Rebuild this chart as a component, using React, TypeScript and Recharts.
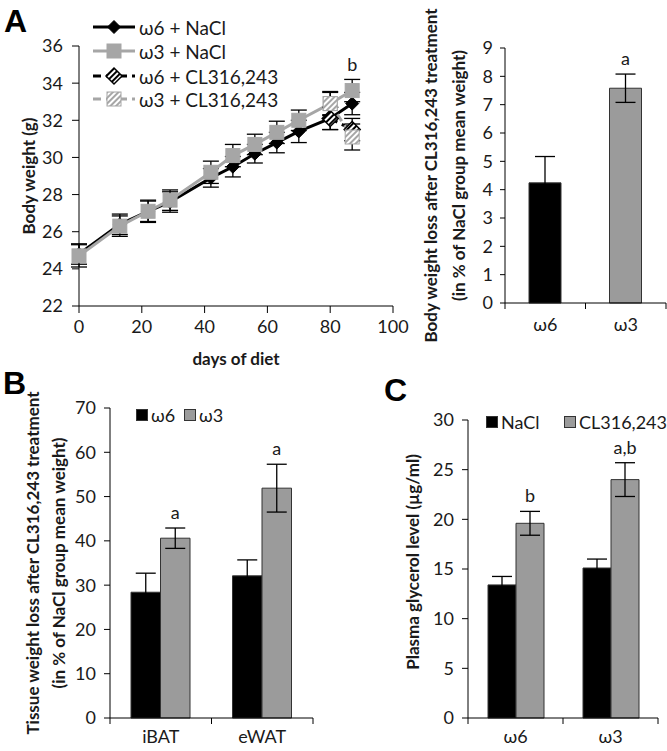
import React from "react";
import {
  LineChart,
  Line,
  BarChart,
  Bar,
  Cell,
  XAxis,
  YAxis,
  ErrorBar,
  LabelList,
  Label,
} from "recharts";

const FONT = "Lato, 'Open Sans', 'DejaVu Sans', sans-serif";
const INK = "#1a1a1a";
const GRAY_LINE = "#a6a6a6";
const GRAY_BAR = "#9b9b9b";

// ---- panel A, body weight over time ----
const days = [0, 13, 22, 29, 42, 49, 56, 63, 70, 80, 87];
const w6NaCl = [24.8, 26.4, 27.1, 27.6, 28.9, 29.5, 30.2, 30.8, 31.4, 32.1, 32.9];
const w6NaClErr = [0.55, 0.55, 0.55, 0.55, 0.5, 0.55, 0.5, 0.55, 0.6, 0.6, 0.6];
const w3NaCl = [24.7, 26.3, 27.1, 27.7, 29.2, 30.1, 30.7, 31.35, 32.0, 32.9, 33.6];
const w3NaClErr = [0.6, 0.55, 0.6, 0.55, 0.6, 0.6, 0.55, 0.6, 0.55, 0.6, 0.6];
const w6CL = [null, null, null, null, null, null, null, null, null, 32.1, 31.5];
const w6CLErr = [null, null, null, null, null, null, null, null, null, 0.6, 0.6];
const w3CL = [null, null, null, null, null, null, null, null, null, 32.9, 31.1];
const w3CLErr = [null, null, null, null, null, null, null, null, null, 0.65, 0.7];
const lineSig = ["", "", "", "", "", "", "", "", "", "", "b"];
const lineSeries = ["ω6 + NaCl", "ω3 + NaCl", "ω6 + CL316,243", "ω3 + CL316,243"];
const weightTicks = [22, 24, 26, 28, 30, 32, 34, 36];
const dayTicks = [0, 20, 40, 60, 80, 100];

// ---- panel A, body weight loss ----
const diets = ["ω6", "ω3"];
const loss = [4.24, 7.58];
const lossErr = [0.93, 0.5];
const lossSig = ["", "a"];
const lossTicks = [0, 1, 2, 3, 4, 5, 6, 7, 8, 9];

// ---- panel B, tissue weight loss ----
const tissues = ["iBAT", "eWAT"];
const w6Tissue = [28.4, 32.1];
const w6TissueErr = [4.3, 3.6];
const w3Tissue = [40.6, 51.9];
const w3TissueErr = [2.3, 5.4];
const tissueSig = ["a", "a"];
const tissueTicks = [0, 10, 20, 30, 40, 50, 60, 70];

// ---- panel C, plasma glycerol ----
const nacl = [13.4, 15.1];
const naclErr = [0.85, 0.9];
const cl = [19.6, 24.0];
const clErr = [1.2, 1.7];
const glySig = ["b", "a,b"];
const glyTicks = [0, 5, 10, 15, 20, 25, 30];

const lineData = days.map((d, i) => ({
  day: d,
  w6NaCl: w6NaCl[i],
  w6NaClErr: w6NaClErr[i],
  w3NaCl: w3NaCl[i],
  w3NaClErr: w3NaClErr[i],
  w6CL: w6CL[i],
  w6CLErr: w6CLErr[i],
  w3CL: w3CL[i],
  w3CLErr: w3CLErr[i],
}));
const lossData = diets.map((d, i) => ({ name: d, loss: loss[i], err: lossErr[i] }));
const tissueData = tissues.map((t, i) => ({
  name: t,
  w6: w6Tissue[i],
  w6Err: w6TissueErr[i],
  w3: w3Tissue[i],
  w3Err: w3TissueErr[i],
}));
const glyData = diets.map((d, i) => ({
  name: d,
  nacl: nacl[i],
  naclErr: naclErr[i],
  cl: cl[i],
  clErr: clErr[i],
}));

const tickStyle = { fontSize: 18, fill: INK, fontFamily: FONT };
const axisStroke = { stroke: "#000", strokeWidth: 1 };
const TITLE_SIZE = 17;

type Kind = "diamond" | "square" | "hatchDiamond" | "hatchSquare";

function Marker({ kind, cx, cy }: { kind: Kind; cx: number; cy: number }) {
  if (kind === "diamond" || kind === "hatchDiamond") {
    const r = kind === "diamond" ? 6.5 : 8;
    return (
      <polygon
        points={`${cx},${cy - r} ${cx + r},${cy} ${cx},${cy + r} ${cx - r},${cy}`}
        fill={kind === "diamond" ? "#000" : "url(#hatchK)"}
        stroke="#000"
        strokeWidth={kind === "diamond" ? 1 : 1.5}
      />
    );
  }
  const s = 14;
  return (
    <rect
      x={cx - s / 2}
      y={cy - s / 2}
      width={s}
      height={s}
      fill={kind === "square" ? GRAY_LINE : "url(#hatchG)"}
      stroke={GRAY_LINE}
      strokeWidth={1}
    />
  );
}

const makeDot = (kind: Kind) => (props: any) => {
  const { cx, cy, index, value } = props;
  if (cx == null || cy == null || value == null || Number.isNaN(cy)) {
    return <g key={`n-${kind}-${index}`} />;
  }
  return <Marker key={`d-${kind}-${index}`} kind={kind} cx={cx} cy={cy} />;
};

function HatchDefs() {
  return (
    <defs>
      <pattern id="hatchK" width="4" height="4" patternUnits="userSpaceOnUse" patternTransform="rotate(45)">
        <rect width="4" height="4" fill="#fff" />
        <rect width="2" height="4" fill="#000" />
      </pattern>
      <pattern id="hatchG" width="4" height="4" patternUnits="userSpaceOnUse" patternTransform="rotate(45)">
        <rect width="4" height="4" fill="#fff" />
        <rect width="2" height="4" fill={GRAY_LINE} />
      </pattern>
    </defs>
  );
}

// rotated y title, one or two lines
const yTitle = (lines: string[], xs: number[], dy = 0) => (props: any) => {
  const vb = props.viewBox || { y: 0, height: 0 };
  const cy = vb.y + vb.height / 2 + dy;
  return (
    <g>
      {lines.map((t, i) => (
        <text
          key={t}
          transform={`translate(${xs[i]},${cy}) rotate(-90)`}
          textAnchor="middle"
          dominantBaseline="central"
          fontFamily={FONT}
          fontWeight="bold"
          fontSize={TITLE_SIZE}
          fill={INK}
        >
          {t}
        </text>
      ))}
    </g>
  );
};

// category tick: label at band centre, tick marks at band edges (Excel style)
const CatTick = (margin: number) => (props: any) => {
  const { x, y, payload, index, visibleTicksCount, width } = props;
  const band = width / visibleTicksCount;
  const axisY = y - margin;
  const last = index === visibleTicksCount - 1;
  return (
    <g>
      <line x1={x - band / 2} x2={x - band / 2} y1={axisY} y2={axisY + 6} stroke="#000" />
      {last && <line x1={x + band / 2} x2={x + band / 2} y1={axisY} y2={axisY + 6} stroke="#000" />}
      <text x={x} y={y} dy="0.71em" textAnchor="middle" fontFamily={FONT} fontSize={18} fill={INK}>
        {payload.value}
      </text>
    </g>
  );
};

// significance letter above the error bar of a bar
const barSig = (sig: string[], err: number[]) => (props: any) => {
  const { x, y, width, height, index, value } = props;
  const s = sig[index];
  if (!s || !value) return <g />;
  const px = height / value;
  const top = y - err[index] * px;
  return (
    <text x={x + width / 2} y={top - 9} textAnchor="middle" fontFamily={FONT} fontSize={18} fill={INK}>
      {s}
    </text>
  );
};

const lineSigLabel = (props: any) => {
  const { x, y, index } = props;
  const s = lineSig[index];
  if (!s) return <g />;
  return (
    <text x={x} y={y - 20} textAnchor="middle" fontFamily={FONT} fontSize={18} fill={INK}>
      {s}
    </text>
  );
};

function LineLegend() {
  const kinds: Kind[] = ["diamond", "square", "hatchDiamond", "hatchSquare"];
  const colors = ["#000", GRAY_LINE, "#000", GRAY_LINE];
  const rowsY = [27, 51, 76, 99];
  return (
    <svg style={{ position: "absolute", left: 0, top: 0 }} width={330} height={115}>
      <HatchDefs />
      {lineSeries.map((name, i) => (
        <g key={name}>
          <line
            x1={93}
            x2={135}
            y1={rowsY[i]}
            y2={rowsY[i]}
            stroke={colors[i]}
            strokeWidth={3}
            strokeDasharray={i >= 2 ? "8 5" : undefined}
          />
          <Marker kind={kinds[i]} cx={114} cy={rowsY[i]} />
          <text x={139} y={rowsY[i]} dominantBaseline="central" fontFamily={FONT} fontSize={19} fill={INK}>
            {name}
          </text>
        </g>
      ))}
    </svg>
  );
}

function BoxLegend({ left, top, names, gap }: { left: number; top: number; names: string[]; gap: number }) {
  const fills = ["#000", GRAY_BAR];
  return (
    <svg style={{ position: "absolute", left, top }} width={200} height={22}>
      {names.map((n, i) => (
        <g key={n}>
          <rect x={i * gap + 0.5} y={5.5} width={11} height={11} fill={fills[i]} stroke="#333" />
          <text x={i * gap + 15} y={11} dominantBaseline="central" fontFamily={FONT} fontSize={18} fill={INK}>
            {n}
          </text>
        </g>
      ))}
    </svg>
  );
}

function PanelLetter({ text, left, top }: { text: string; left: number; top: number }) {
  return (
    <div
      style={{
        position: "absolute",
        left,
        top,
        fontFamily: "'Liberation Sans', Arial, sans-serif",
        fontWeight: "bold",
        fontSize: 32,
        lineHeight: "32px",
        color: "#000",
      }}
    >
      {text}
    </div>
  );
}

export default function App() {
  return (
    <div style={{ position: "absolute", left: 0, top: 0, width: 667, height: 751, background: "#fff" }}>
      {/* A: body weight */}
      <div style={{ position: "absolute", left: 0, top: 0 }}>
        <LineChart width={410} height={370} data={lineData} margin={{ top: 46, right: 17, bottom: 0, left: 0 }}>
          <HatchDefs />
          <XAxis
            dataKey="day"
            type="number"
            domain={[0, 100]}
            ticks={dayTicks}
            height={64}
            axisLine={axisStroke}
            tickLine={axisStroke}
            tickSize={7}
            tickMargin={7}
            tick={tickStyle}
          >
            <Label
              content={(p: any) => (
                <text
                  x={p.viewBox.x + p.viewBox.width / 2}
                  y={358}
                  textAnchor="middle"
                  dominantBaseline="central"
                  fontFamily={FONT}
                  fontWeight="bold"
                  fontSize={TITLE_SIZE}
                  fill={INK}
                >
                  days of diet
                </text>
              )}
            />
          </XAxis>
          <YAxis
            domain={[22, 36]}
            ticks={weightTicks}
            width={79}
            axisLine={axisStroke}
            tickLine={axisStroke}
            tickSize={7}
            tickMargin={9}
            tick={tickStyle}
          >
            <Label content={yTitle(["Body weight (g)"], [28])} />
          </YAxis>
          <Line dataKey="w6NaCl" stroke="#000" strokeWidth={3} dot={makeDot("diamond")} isAnimationActive={false}>
            <ErrorBar dataKey="w6NaClErr" width={8} stroke="#000" strokeWidth={1.3} direction="y" />
          </Line>
          <Line dataKey="w3NaCl" stroke={GRAY_LINE} strokeWidth={3} dot={makeDot("square")} isAnimationActive={false}>
            <ErrorBar dataKey="w3NaClErr" width={8} stroke="#000" strokeWidth={1.3} direction="y" />
            <LabelList dataKey="w3NaCl" content={lineSigLabel} />
          </Line>
          <Line
            dataKey="w6CL"
            stroke="#000"
            strokeWidth={3}
            strokeDasharray="8 5"
            dot={makeDot("hatchDiamond")}
            isAnimationActive={false}
          >
            <ErrorBar dataKey="w6CLErr" width={8} stroke="#000" strokeWidth={1.3} direction="y" />
          </Line>
          <Line
            dataKey="w3CL"
            stroke={GRAY_LINE}
            strokeWidth={3}
            strokeDasharray="8 5"
            dot={makeDot("hatchSquare")}
            isAnimationActive={false}
          >
            <ErrorBar dataKey="w3CLErr" width={8} stroke="#000" strokeWidth={1.3} direction="y" />
          </Line>
        </LineChart>
      </div>
      <LineLegend />

      {/* A: body weight loss */}
      <div style={{ position: "absolute", left: 400, top: 0 }}>
        <BarChart width={267} height={370} data={lossData} margin={{ top: 48, right: 1, bottom: 0, left: 0 }}>
          <XAxis
            dataKey="name"
            height={67}
            axisLine={axisStroke}
            tickLine={false}
            tickSize={0}
            tickMargin={15}
            tick={CatTick(15)}
          />
          <YAxis
            domain={[0, 9]}
            ticks={lossTicks}
            width={105}
            axisLine={axisStroke}
            tickLine={axisStroke}
            tickSize={5}
            tickMargin={7}
            tick={tickStyle}
          >
            <Label
              content={yTitle(
                ["Body weight loss after CL316,243 treatment", "(in % of NaCl group mean weight)"],
                [30, 58]
              )}
            />
          </YAxis>
          <Bar dataKey="loss" barSize={32} stroke="#333" strokeWidth={1} isAnimationActive={false}>
            {lossData.map((d, i) => (
              <Cell key={d.name} fill={i === 0 ? "#000" : GRAY_BAR} />
            ))}
            <ErrorBar dataKey="err" width={10} stroke="#000" strokeWidth={1.3} direction="y" />
            <LabelList dataKey="loss" content={barSig(lossSig, lossErr)} />
          </Bar>
        </BarChart>
      </div>

      {/* B: tissue weight loss */}
      <div style={{ position: "absolute", left: 0, top: 360 }}>
        <BarChart width={320} height={391} data={tissueData} margin={{ top: 48, right: 7, bottom: 0, left: 0 }} barGap={0}>
          <XAxis
            dataKey="name"
            height={33}
            axisLine={axisStroke}
            tickLine={false}
            tickSize={0}
            tickMargin={12}
            tick={CatTick(12)}
          />
          <YAxis
            domain={[0, 70]}
            ticks={tissueTicks}
            width={110}
            axisLine={axisStroke}
            tickLine={axisStroke}
            tickSize={6}
            tickMargin={8}
            tick={tickStyle}
          >
            <Label
              content={yTitle(
                ["Tissue weight loss after CL316,243 treatment", "(in % of NaCl group mean weight)"],
                [32, 58]
              )}
            />
          </YAxis>
          <Bar dataKey="w6" barSize={29.5} fill="#000" stroke="#333" isAnimationActive={false}>
            <ErrorBar dataKey="w6Err" width={10} stroke="#000" strokeWidth={1.3} direction="y" />
          </Bar>
          <Bar dataKey="w3" barSize={29.5} fill={GRAY_BAR} stroke="#333" isAnimationActive={false}>
            <ErrorBar dataKey="w3Err" width={10} stroke="#000" strokeWidth={1.3} direction="y" />
            <LabelList dataKey="w3" content={barSig(tissueSig, w3TissueErr)} />
          </Bar>
        </BarChart>
      </div>
      <BoxLegend left={136} top={404} names={diets} gap={48} />

      {/* C: plasma glycerol */}
      <div style={{ position: "absolute", left: 380, top: 360 }}>
        <BarChart width={287} height={391} data={glyData} margin={{ top: 60, right: 9, bottom: 0, left: 0 }} barGap={0}>
          <XAxis
            dataKey="name"
            height={33}
            axisLine={axisStroke}
            tickLine={false}
            tickSize={0}
            tickMargin={12}
            tick={CatTick(12)}
          />
          <YAxis
            domain={[0, 30]}
            ticks={glyTicks}
            width={88}
            axisLine={axisStroke}
            tickLine={axisStroke}
            tickSize={6}
            tickMargin={8}
            tick={tickStyle}
          >
            <Label content={yTitle(["Plasma glycerol level (µg/ml)"], [32], -7)} />
          </YAxis>
          <Bar dataKey="nacl" barSize={28} fill="#000" stroke="#333" isAnimationActive={false}>
            <ErrorBar dataKey="naclErr" width={10} stroke="#000" strokeWidth={1.3} direction="y" />
          </Bar>
          <Bar dataKey="cl" barSize={28} fill={GRAY_BAR} stroke="#333" isAnimationActive={false}>
            <ErrorBar dataKey="clErr" width={10} stroke="#000" strokeWidth={1.3} direction="y" />
            <LabelList dataKey="cl" content={barSig(glySig, clErr)} />
          </Bar>
        </BarChart>
      </div>
      <BoxLegend left={486} top={411} names={["NaCl", "CL316,243"]} gap={78} />

      <PanelLetter text="A" left={4} top={5} />
      <PanelLetter text="B" left={3} top={367} />
      <PanelLetter text="C" left={384} top={374} />
    </div>
  );
}
